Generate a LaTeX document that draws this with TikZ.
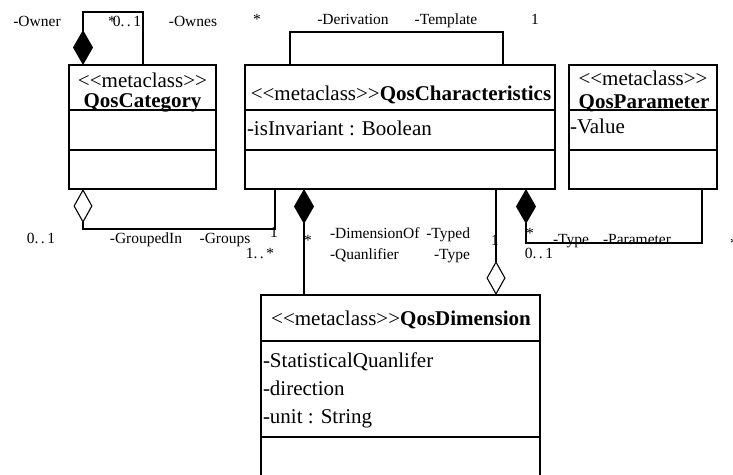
\documentclass[tikz,border=0pt]{standalone}
\usepackage{fontspec}
\setmainfont{Liberation Serif}
\usetikzlibrary{arrows.meta,calc}
\newcommand\dlt{<\kern0pt<}
\newcommand\dgt{>\kern0pt>}
\tikzset{
  filleddia/.tip={Turned Square[length=35pt,width=20pt]},
  opendia/.tip={Turned Square[open,length=34pt,width=19pt]},
}
\begin{document}
\begin{tikzpicture}[x=1pt,y=-1pt,
  every node/.style={inner sep=0pt,outer sep=0pt},
  classbox/.style={draw,rectangle,line width=1.4pt},
  boxline/.style={line width=1.4pt},
  conn/.style={line width=1.1pt},
  clstext/.style={font=\fontsize{21}{24}\selectfont,anchor=base},
  attrtext/.style={font=\fontsize{21}{24}\selectfont,anchor=base west},
  lbl/.style={font=\fontsize{15.5}{18}\selectfont,anchor=base},
]
\useasboundingbox (0,0) rectangle (733,474);
\fill[white] (0,0) rectangle (733,474);

% class boxes
\node[classbox,minimum width=147pt,minimum height=124pt] (cat) at (142.5,127) {};
\node[classbox,minimum width=310pt,minimum height=124pt] (chr) at (400,127) {};
\node[classbox,minimum width=148pt,minimum height=124pt] (par) at (643,127) {};
\node[classbox,minimum width=279pt,minimum height=225pt] (dim) at (400.5,407.5) {};

% compartments
\draw[boxline] (cat.west |- 0,110) -- (cat.east |- 0,110);
\draw[boxline] (cat.west |- 0,150) -- (cat.east |- 0,150);
\draw[boxline] (chr.west |- 0,110) -- (chr.east |- 0,110);
\draw[boxline] (chr.west |- 0,150) -- (chr.east |- 0,150);
\draw[boxline] (par.west |- 0,110) -- (par.east |- 0,110);
\draw[boxline] (par.west |- 0,150) -- (par.east |- 0,150);
\draw[boxline] (dim.west |- 0,341) -- (dim.east |- 0,341);
\draw[boxline] (dim.west |- 0,437) -- (dim.east |- 0,437);

% class texts
\node[clstext] (catst) at (142.5,87) {\dlt metaclass\dgt};
\node[clstext] (catnm) at (142.5,107) {\textbf{QosCategory}};
\node[clstext] (chrnm) at (401,100) {\dlt metaclass\dgt\textbf{QosCharacteristics}};
\node[attrtext] (chra1) at (247,135) {-isInvariant : Boolean};
\node[clstext] (parst) at (643,85) {\dlt metaclass\dgt};
\node[clstext] (parnm) at (644,108) {\textbf{QosParameter}};
\node[attrtext] (para1) at (570,133) {-Value};
\node[clstext] (dimnm) at (401,325) {\dlt metaclass\dgt\textbf{QosDimension}};
\node[attrtext] (dima1) at (263,367) {-StatisticalQuanlifer};
\node[attrtext] (dima2) at (263,395) {-direction};
\node[attrtext] (dima3) at (263,423) {-unit : String};

% self association on QosCategory
\draw[conn,{filleddia}-] ($(cat.north west)+(14,0)$) -- ++(0,-53) -| ($(cat.north west)+(74,0)$);
% derivation / template
\draw[conn] ($(chr.north west)+(45,0)$) -- ++(0,-33) -| ($(chr.north west)+(258,0)$);
% grouped in / groups
\draw[conn,{opendia}-] ($(cat.south west)+(14,0)$) -- ++(0,40) -| ($(chr.south west)+(30,0)$);
% dimension of / quanlifier
\draw[conn,{filleddia}-] ($(chr.south west)+(59,0)$) -- ($(dim.north west)+(43,0)$);
% typed / type
\draw[conn,-{opendia}] ($(chr.south west)+(251,0)$) -- ($(dim.north west)+(235,0)$);
% type / parameter
\draw[conn,{filleddia}-] ($(chr.south west)+(281,0)$) -- ++(0,54) -| ($(par.south west)+(133,0)$);

% labels
\node[lbl] (l1) at (37,26) {-Owner};
\node[lbl] (l2) at (112,26) {*};
\node[lbl] (l3) at (127,26) {0.\,.\,1};
\node[lbl] (l4) at (193,26) {-Ownes};
\node[lbl] (l5) at (257,24) {*};
\node[lbl] (l6) at (353,24) {-Derivation};
\node[lbl] (l7) at (446,24) {-Template};
\node[lbl] (l8) at (535,24) {1};
\node[lbl] (l9) at (41,243) {0.\,.\,1};
\node[lbl] (l10) at (146,243) {-GroupedIn};
\node[lbl] (l11) at (225,243) {-Groups};
\node[lbl] (l12) at (274,237) {1};
\node[lbl] (l13) at (260,258) {1.\,.\,*};
\node[lbl] (l14) at (308,245) {*};
\node[lbl,anchor=base west] (l15) at (330,238) {-DimensionOf};
\node[lbl,anchor=base east] (l16) at (470,238) {-Typed};
\node[lbl,anchor=base west] (l17) at (330,259) {-Quanlifier};
\node[lbl,anchor=base east] (l18) at (470,259) {-Type};
\node[lbl] (l19) at (495,245) {1};
\node[lbl] (l20) at (530,238) {*};
\node[lbl] (l21) at (571,244) {-Type};
\node[lbl] (l22) at (637,244) {-Parameter};
\node[lbl] (l23) at (539,258) {0.\,.\,1};
\node[lbl,anchor=base west] (l24) at (730,248) {*};
\end{tikzpicture}
\end{document}
